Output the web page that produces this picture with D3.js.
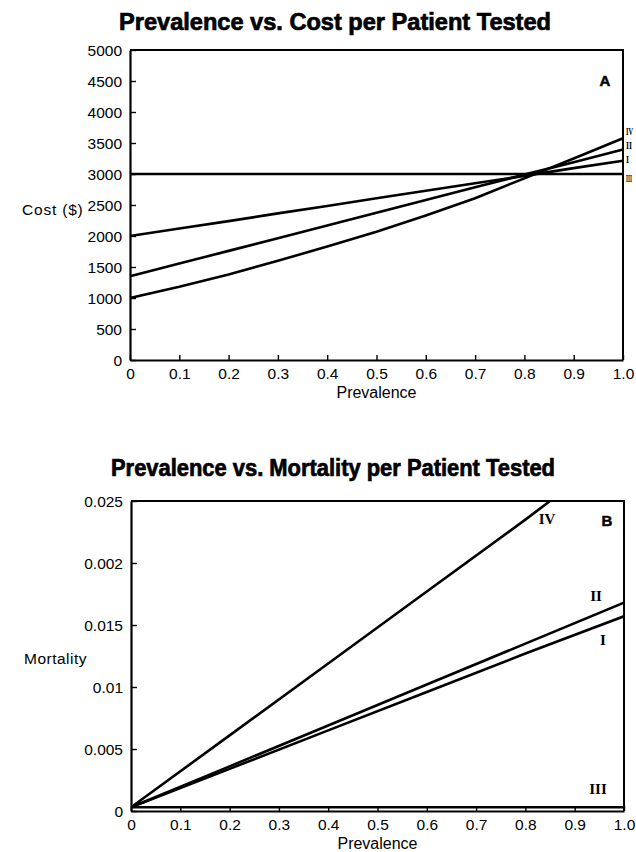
<!DOCTYPE html>
<html>
<head>
<meta charset="utf-8">
<script src="https://cdn.jsdelivr.net/npm/d3@7"></script>
<style>
  body { margin: 0; background: #fff; }
  svg { display: block; font-family: "Liberation Sans", Arial, sans-serif; }
  .title { font-weight: bold; font-size: 23px; stroke: #000; stroke-width: 0.7px; }
  .tick text { font-size: 15.5px; fill: #000; }
  .roman { font-family: "Liberation Serif", "DejaVu Serif", serif; font-weight: bold; font-size: 15px; }
</style>
</head>
<body>
<div id="chart"></div>
<script>
'use strict';

/* shared x values */
var prevalence = [0, 0.1, 0.2, 0.3, 0.4, 0.5, 0.6, 0.7, 0.8, 0.9, 1.0];
var prevTicks = [0, 0.1, 0.2, 0.3, 0.4, 0.5, 0.6, 0.7, 0.8, 0.9, 1.0];
var prevTickLabels = ['0', '0.1', '0.2', '0.3', '0.4', '0.5', '0.6', '0.7', '0.8', '0.9', '1.0'];

/* panel A - cost ($) */
var costI = [2000, 2120, 2240, 2365, 2485, 2610, 2730, 2850, 2970, 3095, 3215];
var costII = [1350, 1555, 1760, 1965, 2170, 2375, 2580, 2785, 2990, 3190, 3397];
var costIII = [3000, 3000, 3000, 3000, 3000, 3000, 3000, 3000, 3000, 3000, 3000];
var costIV = [1000, 1180, 1380, 1600, 1830, 2070, 2330, 2610, 2930, 3250, 3576];
var costTicks = [0, 500, 1000, 1500, 2000, 2500, 3000, 3500, 4000, 4500, 5000];
var costTickLabels = ['0', '500', '1000', '1500', '2000', '2500', '3000', '3500', '4000', '4500', '5000'];

/* panel B - mortality */
var mortPrev = [0, 0.2, 0.4, 0.6, 0.8, 1.0];
var mortI = [0.0003, 0.0034, 0.0065, 0.0096, 0.0127, 0.0157];
var mortII = [0.0003, 0.0036, 0.0069, 0.0102, 0.0135, 0.0168];
var mortIII = [0.0003, 0.0003, 0.0003, 0.0003, 0.0003, 0.0003];
var mortPrevIV = [0, 0.2, 0.4, 0.6, 0.8, 0.85];
var mortIV = [0.0003, 0.0061, 0.0119, 0.0177, 0.0235, 0.025];
var mortTicks = [0, 0.005, 0.01, 0.015, 0.02, 0.025];
var mortTickLabels = ['0', '0.005', '0.01', '0.015', '0.002', '0.025'];

var width = 636;
var height = 852;

var svg = d3.select('#chart')
  .append('svg')
  .attr('width', width)
  .attr('height', height);

svg.append('defs').append('clipPath')
  .attr('id', 'clipB')
  .append('rect')
  .attr('x', 131).attr('y', 501)
  .attr('width', 493).attr('height', 310);

function zip(xs, ys) {
  return xs.map(function(x, i) { return [x, ys[i]]; });
}

/* draw one panel */
function drawPanel(opt) {
  var x = d3.scaleLinear().domain([0, 1]).range([opt.left, opt.right]);
  var y = d3.scaleLinear().domain(opt.yDomain).range([opt.bottom, opt.top]);
  var g = svg.append('g');

  g.append('text')
    .attr('class', 'title')
    .attr('x', opt.titleX)
    .attr('y', opt.titleY)
    .attr('text-anchor', 'middle')
    .attr('textLength', opt.titleLen)
    .attr('lengthAdjust', 'spacingAndGlyphs')
    .text(opt.title);

  var xAxis = d3.axisBottom(x)
    .tickValues(prevTicks)
    .tickFormat(function(d, i) { return prevTickLabels[i]; })
    .tickSizeInner(-5)
    .tickSizeOuter(0)
    .tickPadding(8);
  var gx = g.append('g')
    .attr('transform', 'translate(0,' + opt.bottom + ')')
    .call(xAxis);

  var yAxis = d3.axisLeft(y)
    .tickValues(opt.yTicks)
    .tickFormat(function(d, i) { return opt.yTickLabels[i]; })
    .tickSizeInner(-6)
    .tickSizeOuter(0)
    .tickPadding(8);
  var gy = g.append('g')
    .attr('transform', 'translate(' + opt.left + ',0)')
    .call(yAxis);

  g.selectAll('.domain').attr('stroke', '#000').attr('stroke-width', 2.2);
  g.selectAll('.tick line').attr('stroke', '#000').attr('stroke-width', 1.4);
  gy.selectAll('.tick text').attr('dy', '0.38em');

  /* top and right border */
  g.append('path')
    .attr('d', 'M' + opt.left + ',' + opt.top + 'H' + opt.right + 'V' + opt.bottom)
    .attr('fill', 'none')
    .attr('stroke', '#000')
    .attr('stroke-width', 2);

  g.append('text')
    .attr('x', (opt.left + opt.right) / 2)
    .attr('y', opt.bottom + 38)
    .attr('text-anchor', 'middle')
    .style('font-size', '16px')
    .text('Prevalence');

  g.append('text')
    .attr('x', opt.yLabelX)
    .attr('y', opt.yLabelY)
    .style('font-size', '15.5px')
    .style('letter-spacing', opt.yLabelSpacing || '0px')
    .text(opt.yLabel);

  g.append('text')
    .attr('x', opt.letterX)
    .attr('y', opt.letterY)
    .attr('text-anchor', 'middle')
    .style('font-size', '15px')
    .style('font-weight', 'bold')
    .style('stroke', '#000')
    .style('stroke-width', '0.5px')
    .text(opt.letter);

  var line = d3.line()
    .x(function(d) { return x(d[0]); })
    .y(function(d) { return y(d[1]); });

  var lines = g.append('g');
  if (opt.clip) lines.attr('clip-path', 'url(#' + opt.clip + ')');
  lines.selectAll('path')
    .data(opt.series)
    .enter()
    .append('path')
    .attr('d', function(d) { return line(zip(d.xs, d.ys)); })
    .attr('fill', 'none')
    .attr('stroke', '#000')
    .attr('stroke-width', 2.6);

  g.selectAll('.roman')
    .data(opt.labels)
    .enter()
    .append('text')
    .attr('class', 'roman')
    .attr('x', function(d) { return d.x; })
    .attr('y', function(d) { return d.y; })
    .attr('text-anchor', function(d) { return d.anchor || 'middle'; })
    .attr('dominant-baseline', 'middle')
    .attr('textLength', function(d) { return d.len || null; })
    .attr('lengthAdjust', function(d) { return d.len ? 'spacingAndGlyphs' : null; })
    .style('font-size', function(d) { return (d.size || 15) + 'px'; })
    .text(function(d) { return d.t; });
}

drawPanel({
  title: 'Prevalence vs. Cost per Patient Tested',
  titleX: 335, titleY: 30, titleLen: 432,
  left: 130, right: 623, top: 50, bottom: 360,
  yDomain: [0, 5000],
  yTicks: costTicks, yTickLabels: costTickLabels,
  yLabel: 'Cost ($)', yLabelX: 22, yLabelY: 215, yLabelSpacing: '0.8px',
  letter: 'A', letterX: 605, letterY: 86,
  series: [
    { xs: prevalence, ys: costI },
    { xs: prevalence, ys: costII },
    { xs: prevalence, ys: costIII },
    { xs: prevalence, ys: costIV }
  ],
  labels: [
    { t: 'IV', x: 626, y: 132, anchor: 'start', size: 11, len: 7 },
    { t: 'II', x: 626, y: 146, anchor: 'start', size: 11, len: 6 },
    { t: 'I', x: 626, y: 160, anchor: 'start', size: 11, len: 3 },
    { t: 'III', x: 626, y: 179, anchor: 'start', size: 11, len: 6 }
  ]
});

drawPanel({
  title: 'Prevalence vs. Mortality per Patient Tested',
  titleX: 333, titleY: 476, titleLen: 444,
  left: 131, right: 624, top: 501, bottom: 811,
  yDomain: [0, 0.025],
  yTicks: mortTicks, yTickLabels: mortTickLabels,
  yLabel: 'Mortality', yLabelX: 24, yLabelY: 664, yLabelSpacing: '0.5px',
  letter: 'B', letterX: 607, letterY: 526,
  clip: 'clipB',
  series: [
    { xs: mortPrev, ys: mortI },
    { xs: mortPrev, ys: mortII },
    { xs: mortPrev, ys: mortIII },
    { xs: mortPrevIV, ys: mortIV }
  ],
  labels: [
    { t: 'IV', x: 547, y: 521 },
    { t: 'II', x: 596, y: 598 },
    { t: 'I', x: 603, y: 642 },
    { t: 'III', x: 598, y: 791 }
  ]
});
</script>
</body>
</html>
